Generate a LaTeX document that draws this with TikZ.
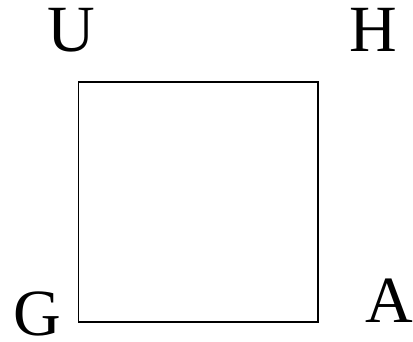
\documentclass[tikz,border=0pt]{standalone}
\usepackage{fontspec}
\setmainfont{Liberation Serif}
\begin{document}
\begin{tikzpicture}[x=1pt,y=-1pt,
  lbl/.style={inner sep=0pt,anchor=base,font=\fontsize{66}{66}\selectfont},
  sq/.style={draw,line width=1.3pt}]
\useasboundingbox (0,0) rectangle (413,341);
\coordinate (g) at (78.5,322);
\coordinate (h) at (318,82);
\draw[sq] (g) rectangle (h);
\node[lbl] (U) at (71,51.5) {U};
\node[lbl] (H) at (373.5,51) {H};
\node[lbl] (G) at (37.5,335) {G};
\node[lbl] (A) at (389,322) {A};
\end{tikzpicture}
\end{document}
